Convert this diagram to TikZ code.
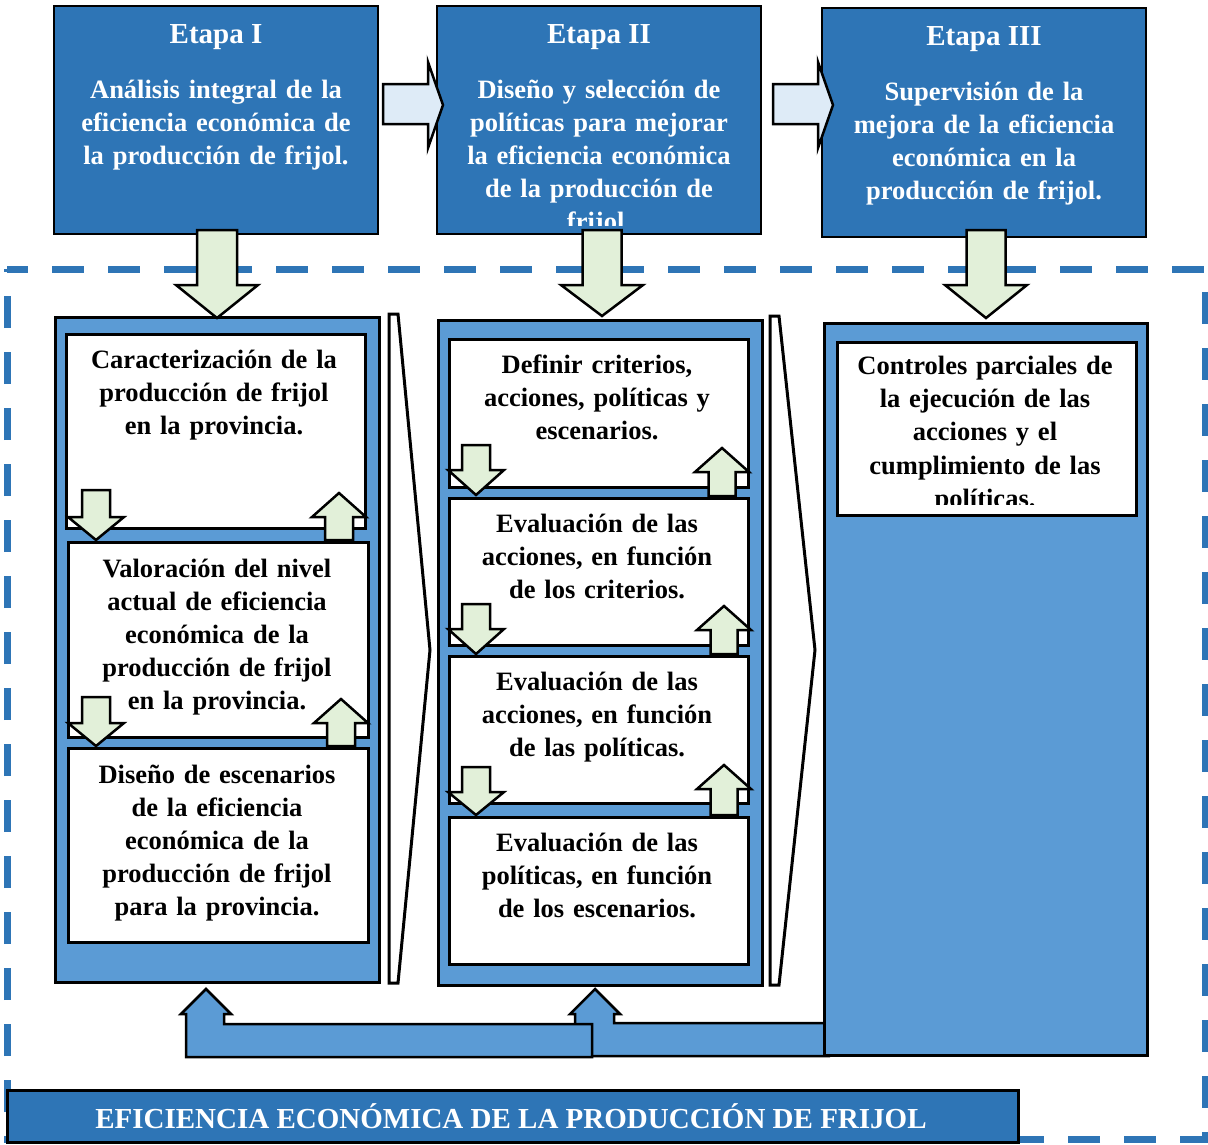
\documentclass[tikz,border=0pt]{standalone}
\usepackage{fontspec}
\setmainfont{Liberation Serif}
\definecolor{dblue}{HTML}{2E75B6}
\definecolor{mblue}{HTML}{5B9BD5}
\definecolor{lgreen}{HTML}{E2F0D9}
\definecolor{lblue}{HTML}{DEEBF7}
\tikzset{
  stage/.style={draw=black, line width=2.5pt, fill=dblue},
  panel/.style={draw=black, line width=2.5pt, fill=mblue},
  wbox/.style={draw=black, line width=2.5pt, fill=white},
  garrow/.style={draw=black, line width=2.5pt, fill=lgreen, line join=miter},
  barrow/.style={draw=black, line width=2.5pt, fill=lblue, line join=miter},
  farrow/.style={draw=black, line width=2.5pt, fill=mblue, line join=miter},
  chev/.style={draw=black, line width=3pt, fill=white, line join=miter},
  ttl/.style={text=white, font=\bfseries\fontsize{29}{33}\selectfont, anchor=base, inner sep=0pt},
  wtxt/.style={text=white, font=\bfseries\fontsize{26.5}{33}\selectfont, align=center, anchor=base, inner sep=0pt, text width=320pt},
  btxt/.style={text=black, font=\bfseries\fontsize{26.5}{33}\selectfont, align=center, anchor=base, inner sep=0pt, text width=300pt},
}
\newcommand\blockarrow[7]{% style, cx, shafthalf, headhalf, ystart, ybase, ytip
  \draw[#1] ({#2-#3},#5) -- ({#2+#3},#5) -- ({#2+#3},#6) -- ({#2+#4},#6) -- (#2,#7)
    -- ({#2-#4},#6) -- ({#2-#3},#6) -- cycle;}
\begin{document}
\begin{tikzpicture}[x=1pt,y=-1pt]
\useasboundingbox (0,0) rectangle (1208,1144);
% dashed frame
\draw[dblue, line width=7pt, dash pattern=on 32pt off 24pt, dash phase=11pt]
  (7,269) -- (1205,269) -- (1205,1139) -- (7,1139) -- cycle;

% stage boxes
\node[stage, minimum width=324pt, minimum height=228pt, inner sep=0pt] (e1) at (216,120) {};
\node[stage, minimum width=324pt, minimum height=228pt, inner sep=0pt] (e2) at (599,120) {};
\node[stage, minimum width=324pt, minimum height=229pt, inner sep=0pt] (e3) at (984,122.5) {};
\node[ttl] (e1t) at (216,43) {Etapa I};
\node[ttl] (e2t) at (599,43) {Etapa II};
\node[ttl] (e3t) at (984,45) {Etapa III};
\node[wtxt] (e1b) at (216,98) {Análisis integral de la\\eficiencia económica de\\la producción de frijol.};
\begin{scope}
  \clip (437,6) rectangle (761,225);
  \node[wtxt] (e2b) at (599,98) {Diseño y selección de\\políticas para mejorar\\la eficiencia económica\\de la producción de\\frijol.};
\end{scope}
\node[wtxt] (e3b) at (984,100) {Supervisión de la\\mejora de la eficiencia\\económica en la\\producción de frijol.};

% right arrows between stages
\draw[barrow] (383,84) -- (428,84) -- (428,62) -- (443,105) -- (428,148) -- (428,124) -- (383,124) -- cycle;
\draw[barrow] (773,84) -- (818,84) -- (818,62) -- (833,105) -- (818,148) -- (818,124) -- (773,124) -- cycle;

% feedback arrows (behind panel 3)
\draw[farrow] (830,1056) -- (575,1056) -- (575,1014) -- (570,1014) -- (595,989) -- (620,1014) -- (614,1014) -- (614,1023) -- (830,1023);
\draw[farrow] (592,1057) -- (186,1057) -- (186,1014) -- (181,1014) -- (206,989) -- (231,1014) -- (224,1014) -- (224,1024) -- (592,1024) -- cycle;

% panels
\node[panel, minimum width=324pt, minimum height=665pt, inner sep=0pt, anchor=north west] (p1) at (54,316) {};
\node[panel, minimum width=324pt, minimum height=665pt, inner sep=0pt, anchor=north west] (p2) at (437,319) {};
\node[panel, minimum width=323pt, minimum height=732pt, inner sep=0pt, anchor=north west] (p3) at (823,322) {};

% chevrons
\draw[chev] (389,314) -- (398,314) -- (430,650) -- (398,983) -- (389,983) -- cycle;
\draw[chev] (770,316) -- (779,316) -- (815,650) -- (779,985) -- (770,985) -- cycle;

% big down arrows
\blockarrow{garrow}{217}{20}{41}{230}{285}{318}
\blockarrow{garrow}{602}{19.5}{41}{230}{285}{316}
\blockarrow{garrow}{986}{19.5}{41}{230}{285}{318}

% white boxes column 1
\node[wbox, minimum width=299pt, minimum height=194pt, inner sep=0pt, anchor=north west] (c1a) at (65,333) {};
\node[wbox, minimum width=300pt, minimum height=195pt, inner sep=0pt, anchor=north west] (c1b) at (67,541) {};
\node[wbox, minimum width=300pt, minimum height=194pt, inner sep=0pt, anchor=north west] (c1c) at (67,747) {};
\node[btxt] (c1at) at (214,368) {Caracterización de la\\producción de frijol\\en la provincia.};
\node[btxt] (c1bt) at (217,577) {Valoración del nivel\\actual de eficiencia\\económica de la\\producción de frijol\\en la provincia.};
\node[btxt] (c1ct) at (217,783) {Diseño de escenarios\\de la eficiencia\\económica de la\\producción de frijol\\para la provincia.};

% white boxes column 2
\node[wbox, minimum width=299pt, minimum height=148pt, inner sep=0pt, anchor=north west] (c2a) at (448,338) {};
\node[wbox, minimum width=299pt, minimum height=147pt, inner sep=0pt, anchor=north west] (c2b) at (448,497) {};
\node[wbox, minimum width=299pt, minimum height=147pt, inner sep=0pt, anchor=north west] (c2c) at (448,655) {};
\node[wbox, minimum width=299pt, minimum height=147pt, inner sep=0pt, anchor=north west] (c2d) at (448,816) {};
\node[btxt] (c2at) at (597,373) {Definir criterios,\\acciones, políticas y\\escenarios.};
\node[btxt] (c2bt) at (597,532) {Evaluación de las\\acciones, en función\\de los criterios.};
\node[btxt] (c2ct) at (597,690) {Evaluación de las\\acciones, en función\\de las políticas.};
\node[btxt] (c2dt) at (597,851) {Evaluación de las\\políticas, en función\\de los escenarios.};

% white box column 3
\node[wbox, minimum width=299pt, minimum height=173pt, inner sep=0pt, anchor=north west] (c3a) at (836,341) {};
\begin{scope}
  \clip (837,342) rectangle (1134,504);
  \node[btxt, font=\bfseries\fontsize{26.5}{33.4}\selectfont] (c3at) at (985,374) {Controles parciales de\\la ejecución de las\\acciones y el\\cumplimiento de las\\políticas.};
\end{scope}

% small arrows column 1
\blockarrow{garrow}{96}{14}{28}{490}{517}{540}
\blockarrow{garrow}{339}{14}{27}{540}{517}{493}
\blockarrow{garrow}{96}{14}{28}{697}{723}{746}
\blockarrow{garrow}{341}{14}{27}{746}{723}{699}

% small arrows column 2
\blockarrow{garrow}{476}{14}{28}{445}{470}{495}
\blockarrow{garrow}{722}{13.5}{27}{496}{472}{448}
\blockarrow{garrow}{476}{14}{28}{604}{629}{654}
\blockarrow{garrow}{724}{13.5}{27}{654}{630}{606}
\blockarrow{garrow}{476}{14}{28}{767}{792}{815}
\blockarrow{garrow}{724}{13.5}{27}{815}{789}{765}

% bottom banner
\node[stage, minimum width=1011pt, minimum height=52pt, inner sep=0pt, anchor=north west] (ban) at (6,1089) {};
\node[text=white, font=\bfseries\fontsize{29}{33}\selectfont, anchor=base, inner sep=0pt] (bant) at (511,1128) {EFICIENCIA ECONÓMICA DE LA PRODUCCIÓN DE FRIJOL};
\end{tikzpicture}
\end{document}
